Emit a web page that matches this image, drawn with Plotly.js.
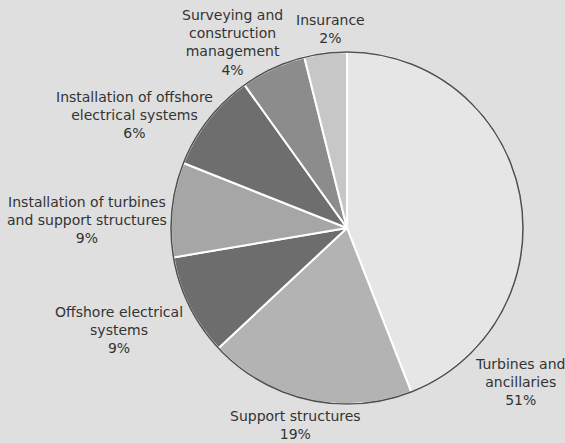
<!DOCTYPE html>
<html>
<head>
<meta charset="utf-8">
<script src="https://cdn.plot.ly/plotly-3.0.1.min.js"></script>
<style>html,body{margin:0;padding:0;background:#dfdfdf;}#chart{width:565px;height:443px;}</style>
</head>
<body>
<div id="chart"></div>
<script>
// Data
const categories = [
  "Turbines and<br>ancillaries",
  "Support structures",
  "Offshore electrical<br>systems",
  "Installation of turbines<br>and support structures",
  "Installation of offshore<br>electrical systems",
  "Surveying and<br>construction<br>management",
  "Insurance"
];
// slice sizes as drawn in the picture (angles)
const sliceValues = [44.1, 19.0, 9.3, 8.7, 9.1, 6.0, 3.9];
// percentages printed on the labels
const labelPercents = [51, 19, 9, 9, 6, 4, 2];

// Styles / layout
const sliceColors = ["#e6e6e6", "#b3b3b3", "#6d6d6d", "#a6a6a6", "#6e6e6e", "#8c8c8c", "#c7c7c7"];
const labelCenters = [[519.5, 381.5], [295, 425], [119, 329.5], [87, 219.5], [134.5, 115], [232, 42.5], [330, 28.5]];
const W = 565, H = 443;
const dom = {x: [171 / W, 523 / W], y: [1 - 404 / H, 1 - 52 / H]};

const traces = [
  {
    type: "pie",
    values: sliceValues,
    labels: categories,
    sort: false,
    direction: "clockwise",
    rotation: 0,
    marker: {colors: sliceColors, line: {color: "#ffffff", width: 2}},
    textinfo: "none",
    hoverinfo: "label+percent",
    showlegend: false,
    domain: dom
  },
  {
    type: "pie",
    values: [1],
    labels: ["outline"],
    marker: {colors: ["rgba(0,0,0,0)"], line: {color: "#505050", width: 1.6}},
    textinfo: "none",
    hoverinfo: "skip",
    showlegend: false,
    domain: dom
  }
];

const annotations = categories.map((c, i) => ({
  text: c + "<br>" + labelPercents[i] + "%",
  x: labelCenters[i][0] / W,
  y: 1 - labelCenters[i][1] / H,
  xref: "paper", yref: "paper",
  xanchor: "center", yanchor: "middle",
  showarrow: false,
  align: "center",
  font: {family: "DejaVu Sans", size: 14, color: "#333333"}
}));

const layout = {
  width: W, height: H,
  margin: {l: 0, r: 0, t: 0, b: 0},
  paper_bgcolor: "#dfdfdf",
  plot_bgcolor: "#dfdfdf",
  showlegend: false,
  annotations: annotations
};

Plotly.newPlot("chart", traces, layout, {displayModeBar: false, staticPlot: true});
</script>
</body>
</html>
